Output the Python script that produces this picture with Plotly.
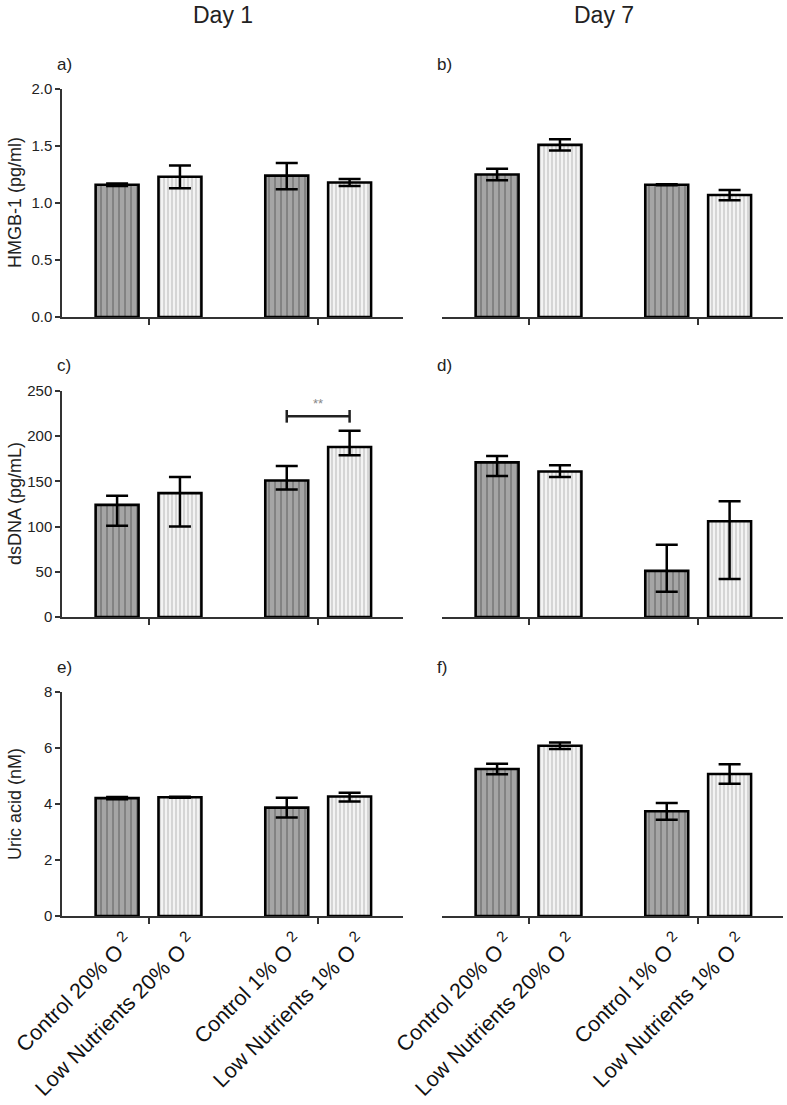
import plotly.graph_objects as go

# ---------------- data ----------------
groups = [1, 2]  # 20% O2 group, 1% O2 group
labels = ["Control 20% O <sup>2</sup>", "Low Nutrients 20% O <sup>2</sup>",
          "Control 1% O <sup>2</sup>", "Low Nutrients 1% O <sup>2</sup>"]

# HMGB-1 (pg/ml)
hmgb_d1_ctrl = [1.16, 1.24]
hmgb_d1_ctrl_up = [0.01, 0.11]
hmgb_d1_ctrl_dn = [0.01, 0.12]
hmgb_d1_ln = [1.23, 1.18]
hmgb_d1_ln_up = [0.10, 0.03]
hmgb_d1_ln_dn = [0.10, 0.03]

hmgb_d7_ctrl = [1.25, 1.16]
hmgb_d7_ctrl_up = [0.05, 0.005]
hmgb_d7_ctrl_dn = [0.05, 0.005]
hmgb_d7_ln = [1.51, 1.07]
hmgb_d7_ln_up = [0.05, 0.045]
hmgb_d7_ln_dn = [0.05, 0.045]

# dsDNA (pg/mL)
ds_d1_ctrl = [124, 151]
ds_d1_ctrl_up = [10, 16]
ds_d1_ctrl_dn = [23, 10]
ds_d1_ln = [137, 188]
ds_d1_ln_up = [18, 18]
ds_d1_ln_dn = [37, 9]

ds_d7_ctrl = [171, 51]
ds_d7_ctrl_up = [7, 29]
ds_d7_ctrl_dn = [15, 23]
ds_d7_ln = [161, 106]
ds_d7_ln_up = [7, 22]
ds_d7_ln_dn = [6, 64]

# Uric acid (nM)
ua_d1_ctrl = [4.21, 3.87]
ua_d1_ctrl_up = [0.04, 0.35]
ua_d1_ctrl_dn = [0.04, 0.35]
ua_d1_ln = [4.24, 4.27]
ua_d1_ln_up = [0.02, 0.13]
ua_d1_ln_dn = [0.02, 0.18]

ua_d7_ctrl = [5.25, 3.74]
ua_d7_ctrl_up = [0.19, 0.3]
ua_d7_ctrl_dn = [0.19, 0.3]
ua_d7_ln = [6.08, 5.07]
ua_d7_ln_up = [0.12, 0.35]
ua_d7_ln_dn = [0.12, 0.35]

y_titles = ["HMGB-1 (pg/ml)", "dsDNA (pg/mL)", "Uric acid (nM)"]
y_max = [2.0, 250, 8]
y_dtick = [0.5, 50, 2]
y_fmt = [".1f", "d", "d"]
panel_letters = [["a)", "b)"], ["c)", "d)"], ["e)", "f)"]]
col_titles = ["Day 1", "Day 7"]
sig_text = "**"
sig_level = 222  # dsDNA, day 1, 1% O2 group

panels = [
    [(hmgb_d1_ctrl, hmgb_d1_ctrl_up, hmgb_d1_ctrl_dn, hmgb_d1_ln, hmgb_d1_ln_up, hmgb_d1_ln_dn),
     (hmgb_d7_ctrl, hmgb_d7_ctrl_up, hmgb_d7_ctrl_dn, hmgb_d7_ln, hmgb_d7_ln_up, hmgb_d7_ln_dn)],
    [(ds_d1_ctrl, ds_d1_ctrl_up, ds_d1_ctrl_dn, ds_d1_ln, ds_d1_ln_up, ds_d1_ln_dn),
     (ds_d7_ctrl, ds_d7_ctrl_up, ds_d7_ctrl_dn, ds_d7_ln, ds_d7_ln_up, ds_d7_ln_dn)],
    [(ua_d1_ctrl, ua_d1_ctrl_up, ua_d1_ctrl_dn, ua_d1_ln, ua_d1_ln_up, ua_d1_ln_dn),
     (ua_d7_ctrl, ua_d7_ctrl_up, ua_d7_ctrl_dn, ua_d7_ln, ua_d7_ln_up, ua_d7_ln_dn)],
]

# ---------------- layout geometry ----------------
W, H = 787, 1105
FONT = "Liberation Sans, Arial, sans-serif"
BARGAP = 0.259
BARGROUPGAP = 0.317
offset = (1 - BARGAP) / 4  # centre offset of each bar in a 2-trace group
bar_pos = [g + s * offset for g in groups for s in (-1, 1)]
LABEL_SHIFT = 0.06           # rotated labels sit a bit right of bar centres
label_pos = [p + LABEL_SHIFT for p in bar_pos]

# panel positions in pixels
col_px = [(62, 403), (442, 783)]
row_px = [(89, 317), (391, 617), (692, 916)]


def px_x(p):
    return p / W


def px_y(p):
    return 1 - p / H


def xd(px):
    return [px_x(px[0]), min(px_x(px[1]), 1.0)]


def yd(px):
    return [px_y(px[1]), px_y(px[0])]


fig = go.Figure()
annotations = []
shapes = []

dark = dict(color="#a5a5a5", line=dict(color="black", width=2.6),
            pattern=dict(shape="|", fgcolor="#3a3a3a", bgcolor="#a5a5a5", size=6, solidity=0.22))
light = dict(color="#f3f3f3", line=dict(color="black", width=2.6),
             pattern=dict(shape="|", fgcolor="#7a7a7a", bgcolor="#f3f3f3", size=4, solidity=0.25))

idx = 0
for r in range(3):
    for c in range(2):
        idx += 1
        xa = "x" if idx == 1 else f"x{idx}"
        ya = "y" if idx == 1 else f"y{idx}"
        ctrl, cu, cd, ln, lu, ldn = panels[r][c]
        for vals, up, dn, mk, nm in ((ctrl, cu, cd, dark, "Control"), (ln, lu, ldn, light, "Low Nutrients")):
            fig.add_trace(go.Bar(
                x=groups, y=vals, name=nm, marker=mk, xaxis=xa, yaxis=ya, showlegend=False,
                error_y=dict(type="data", symmetric=False, array=up, arrayminus=dn,
                             color="black", thickness=2.5, width=11),
            ))
        bottom = r == 2
        fig.layout[f"xaxis{'' if idx == 1 else idx}"] = dict(
            domain=xd(col_px[c]), anchor=ya, range=[0.49, 2.5], automargin=False,
            showline=True, linecolor="#333333", linewidth=1.5,
            tickmode="array", tickvals=label_pos, ticktext=labels,
            showticklabels=bottom, ticks="", tickangle=-45, ticklabelstandoff=3,
            tickfont=dict(family=FONT, size=21.5, color="#111111"),
            minor=dict(tickmode="array", tickvals=groups, ticks="outside", ticklen=6,
                       tickwidth=1.5, tickcolor="#333333", showgrid=False),
            showgrid=False, zeroline=False, fixedrange=True,
        )
        fig.layout[f"yaxis{'' if idx == 1 else idx}"] = dict(
            domain=yd(row_px[r]), anchor=xa, range=[0, y_max[r]], automargin=False,
            showline=(c == 0), linecolor="#333333", linewidth=1.5,
            ticks="outside" if c == 0 else "", ticklen=5, tickwidth=1.5, tickcolor="#333333",
            showticklabels=(c == 0), dtick=y_dtick[r], tick0=0, tickformat=y_fmt[r],
            tickfont=dict(family=FONT, size=15, color="#222222"),
            showgrid=False, zeroline=False, fixedrange=True,
        )
        # panel letter
        annotations.append(dict(
            text=panel_letters[r][c], x=px_x(col_px[c][0] - 7), y=px_y(row_px[r][0] - 25),
            xref="paper", yref="paper", showarrow=False, xanchor="left", yanchor="middle",
            font=dict(family=FONT, size=17, color="#222222")))
    # y-axis title
    annotations.append(dict(
        text=y_titles[r], x=px_x(15), y=px_y((row_px[r][0] + row_px[r][1]) / 2),
        xref="paper", yref="paper", showarrow=False, textangle=-90,
        xanchor="center", yanchor="middle",
        font=dict(family=FONT, size=18, color="#222222")))

# column titles
for c, t in enumerate(col_titles):
    annotations.append(dict(
        text=t, x=px_x((col_px[c][0] + col_px[c][1]) / 2 - 9), y=px_y(15),
        xref="paper", yref="paper", showarrow=False, xanchor="center", yanchor="middle",
        font=dict(family=FONT, size=23, color="#222222")))

# significance bracket (panel c, 1% O2 group)
x0, x1 = groups[1] - offset, groups[1] + offset
cap = 7
shapes.append(dict(type="line", xref="x3", yref="y3", x0=x0, x1=x1, y0=sig_level, y1=sig_level,
                   line=dict(color="#222222", width=2.5)))
for xx in (x0, x1):
    shapes.append(dict(type="line", xref="x3", yref="y3", x0=xx, x1=xx,
                       y0=sig_level - cap, y1=sig_level + cap, line=dict(color="#222222", width=2.5)))
annotations.append(dict(text=sig_text, x=groups[1], y=sig_level + 4, xref="x3", yref="y3",
                        showarrow=False, yanchor="bottom",
                        font=dict(family=FONT, size=13, color="#888888")))

fig.update_layout(
    width=W, height=H, margin=dict(l=0, r=0, t=0, b=0, autoexpand=False),
    paper_bgcolor="white", plot_bgcolor="white",
    barmode="group", bargap=BARGAP, bargroupgap=BARGROUPGAP,
    annotations=annotations, shapes=shapes,
    font=dict(family=FONT),
)

fig.write_html("out.html", config={"displayModeBar": False},
               post_script="document.body.style.margin='0';")
